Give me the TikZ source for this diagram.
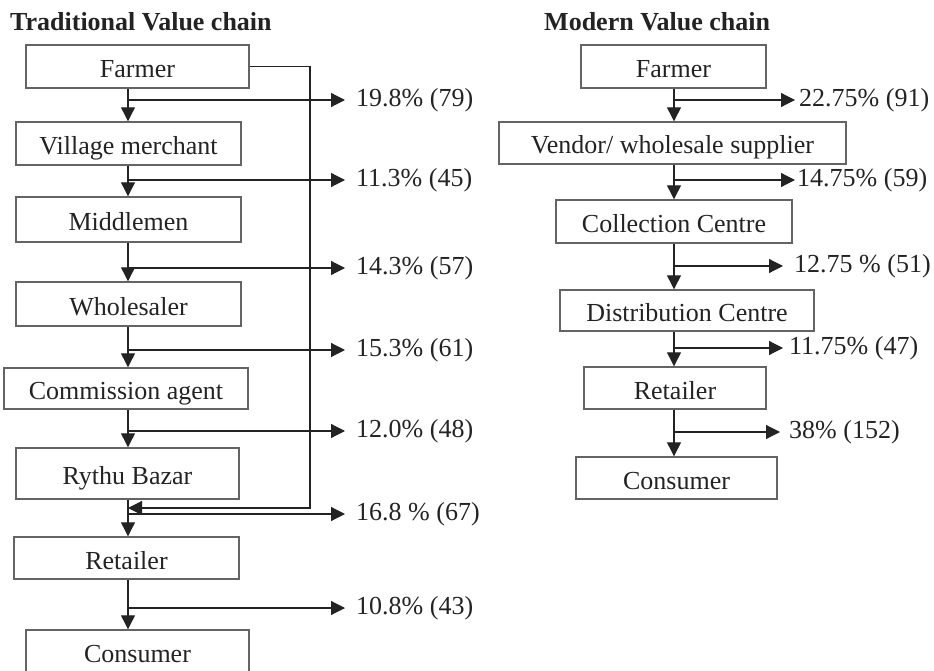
\documentclass[tikz,border=0pt]{standalone}
\usepackage{fontspec}
\setmainfont{Liberation Serif}
\usetikzlibrary{arrows.meta}
\definecolor{boxline}{RGB}{100,100,100}
\definecolor{ink}{RGB}{35,35,35}

\begin{document}
\begin{tikzpicture}[x=1pt, y=-1pt,
  every node/.style={font=\fontsize{26}{30}\selectfont, text=ink},
  box/.style={draw=boxline, line width=1.4pt, minimum height=43pt, inner sep=0pt, text height=22pt, text depth=0pt},
  share/.style={anchor=west, inner ysep=0pt, inner xsep=#1}, share/.default=11pt,
  flow/.style={draw=ink, line width=1.2pt, -{Triangle[length=14pt,width=14pt]}}]
\useasboundingbox (0,0) rectangle (934,671);

% Titles
\node[anchor=west, inner sep=0pt, font=\fontsize{26}{30}\selectfont\bfseries] (ttitle) at (10,22) {Traditional Value chain};
\node[anchor=west, inner sep=0pt, font=\fontsize{26}{30}\selectfont\bfseries] (mtitle) at (544,22) {Modern Value chain};

% Traditional chain
\node[box, minimum width=223pt] (t1) at (137.5,66.5) {Farmer};
\node[box, minimum width=225pt] (t2) at (128.5,143.5) {Village merchant};
\node[box, minimum width=225pt, minimum height=45pt] (t3) at (128.5,219.5) {Middlemen};
\node[box, minimum width=225pt, minimum height=44pt] (t4) at (128.5,304) {Wholesaler};
\node[box, minimum width=244pt, minimum height=41pt] (t5) at (126,388.5) {Commission agent};
\node[box, minimum width=223pt, minimum height=51pt] (t6) at (127.5,473.5) {Rythu Bazar};
\node[box, minimum width=225pt, minimum height=42pt] (t7) at (126.5,558) {Retailer};
\node[box, minimum width=223pt] (t8) at (137.5,651.5) {Consumer};

% Modern chain
\node[box, minimum width=185pt] (m1) at (673.5,66.5) {Farmer};
\node[box, minimum width=347pt, minimum height=42pt] (m2) at (672.5,143) {Vendor/ wholesale supplier};
\node[box, minimum width=236pt] (m3) at (674,221.5) {Collection Centre};
\node[box, minimum width=254pt, minimum height=41pt] (m4) at (687,310.5) {Distribution Centre};
\node[box, minimum width=182pt, minimum height=42pt] (m5) at (675,388) {Retailer};
\node[box, minimum width=201pt, minimum height=42pt] (m6) at (676.5,478) {Consumer};

% Shares
\node[share] (p1) at (345,100) {19.8\% (79)};
\node[share] (p2) at (345,180) {11.3\% (45)};
\node[share] (p3) at (345,268) {14.3\% (57)};
\node[share] (p4) at (345,350) {15.3\% (61)};
\node[share] (p5) at (345,431) {12.0\% (48)};
\node[share] (p6) at (345,514) {16.8 \% (67)};
\node[share] (p7) at (345,608) {10.8\% (43)};

\node[share=4pt] (q1) at (795,100) {22.75\% (91)};
\node[share=2pt] (q2) at (795,180) {14.75\% (59)};
\node[share=11pt] (q3) at (783,266) {12.75 \% (51)};
\node[share=6pt] (q4) at (783,348) {11.75\% (47)};
\node[share=9pt] (q5) at (780,432) {38\% (152)};

% Branch points
\coordinate (lx) at (128,0);
\coordinate (rx) at (674,0);
\foreach \n in {1,...,7} {
  \coordinate (b\n) at (lx |- p\n.west);
}
\foreach \n in {1,...,5} {
  \coordinate (c\n) at (rx |- q\n.west);
}
\coordinate (bp) at (310,508);
\coordinate (bq) at (128,508);

%Arrows
\foreach \a/\b in {1/2,2/3,3/4,4/5,5/6,6/7,7/8} {
  \draw[flow] (t\a.south -| lx) -- (t\b.north -| lx);
}
\foreach \a/\b in {1/2,2/3,3/4,4/5,5/6} {
  \draw[flow] (m\a.south -| rx) -- (m\b.north -| rx);
}
\foreach \n in {1,...,7} {
  \draw[flow] (b\n) -- (p\n.west);
}
\foreach \n in {1,...,5} {
  \draw[flow] (c\n) -- (q\n.west);
}
\draw[flow] (t1.east) -| (bp) -- (bq);
\end{tikzpicture}
\end{document}
